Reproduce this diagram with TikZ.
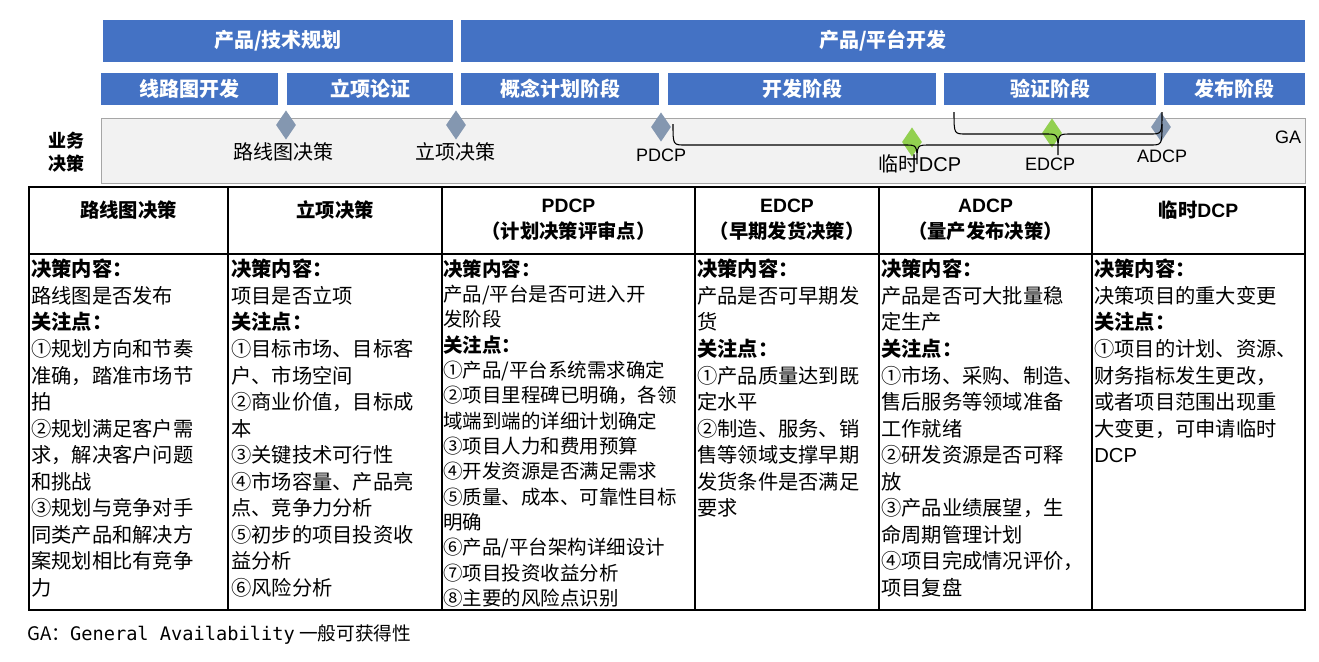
\documentclass[tikz,border=0pt]{standalone}
\usepackage{fontspec}
\setmainfont{Noto Sans CJK SC}
\newfontfamily\latinf{Liberation Sans}
\newfontfamily\monof{DejaVu Sans Mono}
\usetikzlibrary{shapes.geometric}
\definecolor{barblue}{HTML}{4472C4}
\definecolor{dgray}{HTML}{8497B0}
\definecolor{dgreen}{HTML}{92D050}
\definecolor{bandfill}{HTML}{F2F2F2}
\tikzset{
  bar/.style={fill=barblue,draw=none,text=white,font=\fontsize{15}{17}\selectfont\bfseries,inner sep=0pt},
  dia/.style={diamond,fill=dgray,draw=none,minimum width=15pt,minimum height=22pt,inner sep=0pt,aspect=0.67},
  gdia/.style={dia,fill=dgreen},
  ml/.style={font=\fontsize{15}{17}\selectfont,inner sep=0pt},
  hd/.style={font=\fontsize{14.5}{19.5}\selectfont\bfseries,align=center,inner sep=0pt},
  body/.style={anchor=north west,align=left,inner sep=0pt,font=\fontsize{15.2}{19.9}\selectfont},
  brc/.style={draw=black,line width=0.8pt},
}
\begin{document}
\begin{tikzpicture}[x=0.75pt,y=-0.75pt]
\useasboundingbox (0,0) rectangle (1319,661);
% top bars
\node[bar,minimum width=350*0.75pt,minimum height=42*0.75pt] (b1) at (278,41) {产品/技术规划};
\node[bar,minimum width=844*0.75pt,minimum height=42*0.75pt] (b2) at (883,41) {产品/平台开发};
\foreach \n/\a/\b/\t in {s1/101/278/线路图开发, s2/287/453/立项论证, s3/461/659/概念计划阶段, s4/668/936/开发阶段, s5/944/1156/验证阶段, s6/1164/1305/发布阶段}{
  \node[bar,minimum width={(\b-\a)*0.75pt},minimum height=32*0.75pt] (\n) at ({(\a+\b)/2},89) {\t};
}
% band
\draw[fill=bandfill,draw=gray!70] (101,118) rectangle (1305,183);
\node[hd,font=\fontsize{13.5}{17}\selectfont\bfseries] (yw) at (66,152) {业务\\决策};
% diamonds
\node[dia] (d1) at (286,125) {};
\node[dia] (d2) at (456,125) {};
\node[dia] (d3) at (661,127) {};
\node[gdia] (d4) at (912,142) {};
\node[gdia] (d5) at (1052,133) {};
\node[dia] (d6) at (1161,127) {};
% braces
\draw[brc] (673,124) .. controls (673,145) .. (685,145) -- (905,145) .. controls (917,145) .. (917,164) .. controls (917,145) .. (929,145) -- (1150,145) .. controls (1162,145) .. (1162,124);
\draw[brc] (954,112) .. controls (954,134) .. (966,134) -- (1046,134) .. controls (1058,134) .. (1058,155) .. controls (1058,134) .. (1070,134) -- (1150,134) .. controls (1162,134) .. (1162,112);
% labels
\node[ml] (l1) at (283,152) {路线图决策};
\node[ml] (l2) at (455,152) {立项决策};
\node[ml,font=\latinf\fontsize{13.5}{15}\selectfont] (l3) at (661,155) {PDCP};
\node[ml] (l4) at (920,164) {临时\latinf DCP};
\node[ml,font=\latinf\fontsize{13.5}{15}\selectfont] (l5) at (1050,164) {EDCP};
\node[ml,font=\latinf\fontsize{13.5}{15}\selectfont] (l6) at (1162,156) {ADCP};
\node[ml,font=\latinf\fontsize{13.5}{15}\selectfont] (ga) at (1288,137) {GA};
% table
\draw[line width=0.9pt] (29,187) rectangle (1305,610);
\draw[line width=0.9pt] (29,254) -- (1305,254);
\foreach \x in {228,442,695,879,1092}{\draw[line width=0.9pt] (\x,187) -- (\x,610);}
\node[hd] (h1) at (128.5,210) {路线图决策};
\node[hd] (h2) at (335,210) {立项决策};
\node[hd,anchor=north] (h3) at (568.5,199) {\latinf PDCP\\（计划决策评审点）};
\node[hd,anchor=north] (h4) at (787,199) {\latinf EDCP\\（早期发货决策）};
\node[hd,anchor=north] (h5) at (985.5,199) {\latinf ADCP\\（量产发布决策）};
\node[hd] (h6) at (1198.5,210) {临时\latinf DCP};
\node[body] (c1) at (31,259) {\textbf{决策内容：}\\路线图是否发布\\\textbf{关注点：}\\①规划方向和节奏\\准确，踏准市场节\\拍\\②规划满足客户需\\求，解决客户问题\\和挑战\\③规划与竞争对手\\同类产品和解决方\\案规划相比有竞争\\力};
\node[body] (c2) at (231,259) {\textbf{决策内容：}\\项目是否立项\\\textbf{关注点：}\\①目标市场、目标客\\户、市场空间\\②商业价值，目标成\\本\\③关键技术可行性\\④市场容量、产品亮\\点、竞争力分析\\⑤初步的项目投资收\\益分析\\⑥风险分析};
\node[body,font=\fontsize{14.6}{19}\selectfont] (c3) at (443,259) {\textbf{决策内容：}\\产品/平台是否可进入开\\发阶段\\\textbf{关注点：}\\①产品/平台系统需求确定\\②项目里程碑已明确，各领\\域端到端的详细计划确定\\③项目人力和费用预算\\④开发资源是否满足需求\\⑤质量、成本、可靠性目标\\明确\\⑥产品/平台架构详细设计\\⑦项目投资收益分析\\⑧主要的风险点识别};
\node[body] (c4) at (697,259) {\textbf{决策内容：}\\产品是否可早期发\\货\\\textbf{关注点：}\\①产品质量达到既\\定水平\\②制造、服务、销\\售等领域支撑早期\\发货条件是否满足\\要求};
\node[body] (c5) at (881,259) {\textbf{决策内容：}\\产品是否可大批量稳\\定生产\\\textbf{关注点：}\\①市场、采购、制造、\\售后服务等领域准备\\工作就绪\\②研发资源是否可释\\放\\③产品业绩展望，生\\命周期管理计划\\④项目完成情况评价，\\项目复盘};
\node[body] (c6) at (1094,259) {\textbf{决策内容：}\\决策项目的重大变更\\\textbf{关注点：}\\①项目的计划、资源、\\财务指标发生更改，\\或者项目范围出现重\\大变更，可申请临时\\\latinf DCP};
\node[anchor=west,inner sep=0pt,font=\fontsize{14}{16}\selectfont] (fn) at (27,635) {GA：{\monof General Availability} 一般可获得性};
\end{tikzpicture}
\end{document}
